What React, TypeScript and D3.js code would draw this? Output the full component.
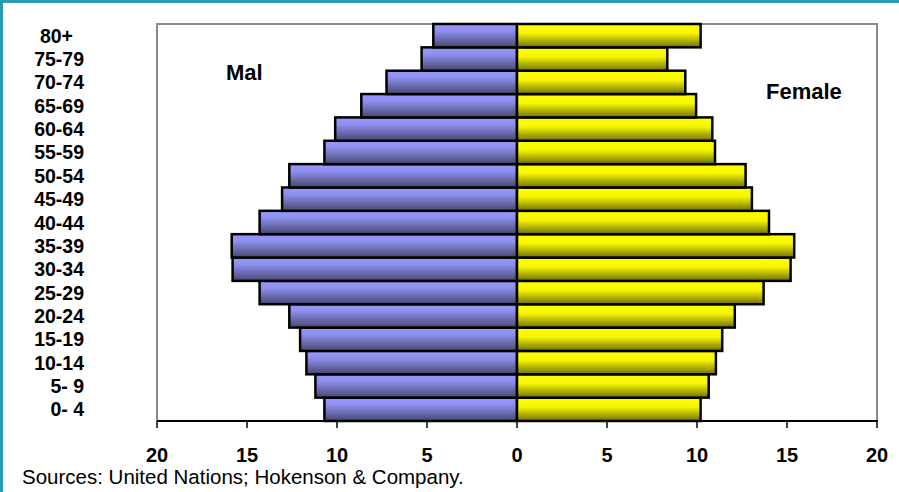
import React from "react";
import * as d3 from "d3";

const ageGroups = ["0- 4", "5- 9", "10-14", "15-19", "20-24", "25-29", "30-34", "35-39", "40-44", "45-49", "50-54", "55-59", "60-64", "65-69", "70-74", "75-79", "80+"];
const maleValues = [10.7, 11.2, 11.7, 12.05, 12.65, 14.3, 15.8, 15.85, 14.3, 13.05, 12.65, 10.7, 10.1, 8.65, 7.25, 5.3, 4.65];
const femaleValues = [10.2, 10.65, 11.05, 11.4, 12.1, 13.7, 15.2, 15.4, 14.0, 13.05, 12.7, 11.0, 10.85, 9.95, 9.35, 8.35, 10.2];
const tickValues = [-20, -15, -10, -5, 0, 5, 10, 15, 20];

const W = 899;
const H = 492;
const plot = { left: 157, right: 877, top: 24, bottom: 421 };
const FONT = "Arial, 'Liberation Sans', Helvetica, sans-serif";

export default function App() {
  const x = d3.scaleLinear().domain([-20, 20]).range([plot.left, plot.right]);
  const order = [...ageGroups].reverse();
  const y = d3.scaleBand<string>().domain(order).range([plot.top, plot.bottom]).padding(0);

  return (
    <svg
      width={W}
      height={H}
      style={{ position: "absolute", left: 0, top: 0, background: "#fff" }}
      fontFamily={FONT}
    >
      <defs>
        <linearGradient id="gMale" x1="0" y1="0" x2="0" y2="1">
          <stop offset="0" stopColor="#9999ff" />
          <stop offset="0.3" stopColor="#8f8fef" />
          <stop offset="1" stopColor="#474770" />
        </linearGradient>
        <linearGradient id="gFemale" x1="0" y1="0" x2="0" y2="1">
          <stop offset="0" stopColor="#ffff00" />
          <stop offset="0.4" stopColor="#f6f600" />
          <stop offset="1" stopColor="#707000" />
        </linearGradient>
      </defs>
      {/* teal frame */}
      <rect x={0} y={0} width={W} height={3} fill="#2a9bb5" />
      <rect x={0} y={0} width={3} height={H} fill="#2a9bb5" />

      {/* plot frame */}
      <path
        d={`M${plot.left},${plot.bottom} V${plot.top} H${plot.right} V${plot.bottom}`}
        fill="none"
        stroke="#8a8a8a"
        strokeWidth={2}
      />

      {/* bars */}
      {ageGroups.map((g, i) => {
        const y0 = y(g)!;
        const bh = y.bandwidth();
        const m = maleValues[i];
        const f = femaleValues[i];
        return (
          <g key={g}>
            <rect
              x={x(-m)}
              y={y0}
              width={x(0) - x(-m)}
              height={bh}
              fill="url(#gMale)"
              stroke="#000"
              strokeWidth={2.5}
            />
            <rect
              x={x(0)}
              y={y0}
              width={x(f) - x(0)}
              height={bh}
              fill="url(#gFemale)"
              stroke="#000"
              strokeWidth={2.5}
            />
          </g>
        );
      })}

      {/* x axis */}
      <line x1={plot.left} x2={plot.right + 1} y1={plot.bottom} y2={plot.bottom} stroke="#000" strokeWidth={2} />
      {tickValues.map((t) => (
        <g key={t}>
          <line x1={x(t)} x2={x(t)} y1={plot.bottom} y2={plot.bottom + 7} stroke="#000" strokeWidth={1.5} />
          <text
            x={x(t)}
            y={462}
            textAnchor="middle"
            fontSize={20}
            fontWeight="bold"
            fill="#000"
          >
            {Math.abs(t)}
          </text>
        </g>
      ))}

      {/* y labels */}
      {order.map((g) => (
        <text
          key={g}
          x={g === "80+" ? 73 : 84}
          y={y(g)! + y.bandwidth() / 2 + 7}
          textAnchor="end"
          fontSize={19.5}
          fontWeight="bold"
          fill="#000"
          style={{ whiteSpace: "pre" }}
        >
          {g}
        </text>
      ))}

      <text x={226} y={80} fontSize={22} fontWeight="bold" fill="#000">Mal</text>
      <text x={766} y={99} fontSize={22} fontWeight="bold" fill="#000">Female</text>

      <text x={22} y={484} fontSize={20.5} fill="#000">
        Sources: United Nations; Hokenson &amp; Company.
      </text>
    </svg>
  );
}
